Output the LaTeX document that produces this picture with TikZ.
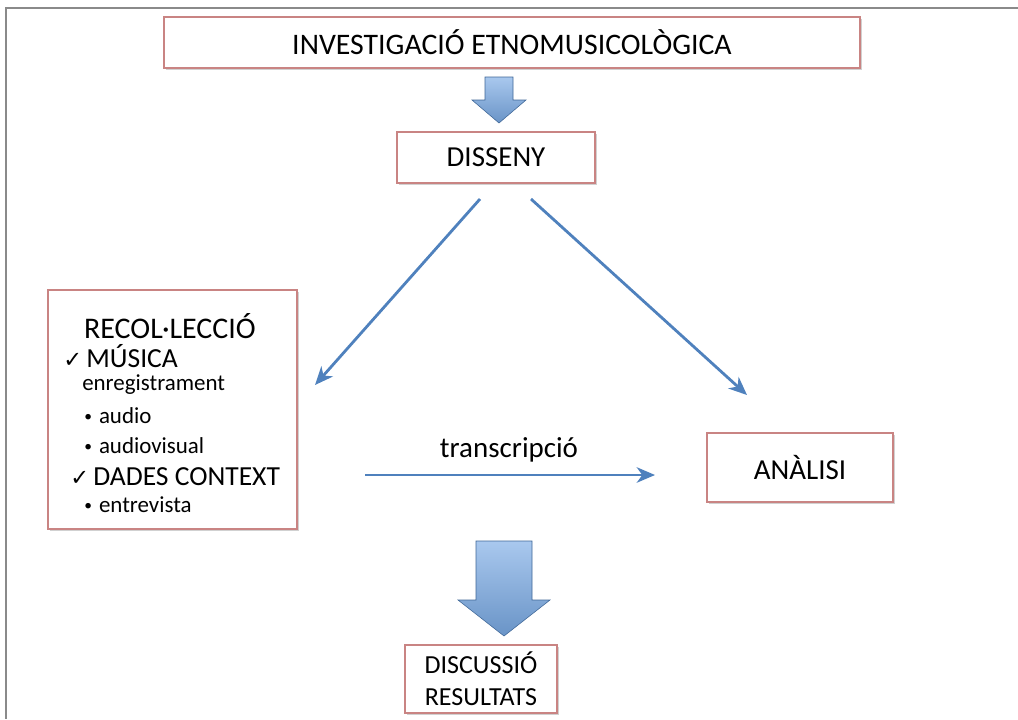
\documentclass[tikz,border=0pt]{standalone}
\usepackage{fontspec}
\setmainfont{Carlito}
\newfontfamily\symfont{DejaVu Sans}
\usetikzlibrary{arrows.meta,shadows}

\definecolor{boxred}{HTML}{C98483}
\definecolor{arrblue}{HTML}{4F81BD}
\definecolor{arrlight}{HTML}{A9C8EE}
\definecolor{framegray}{HTML}{8A8A8A}

\newcommand{\chk}{{\symfont\fontsize{16}{18}\selectfont ✓}}
\newcommand{\bul}{\raisebox{1pt}{\fontsize{11}{12}\selectfont •}\hspace{5pt}}

\begin{document}
\begin{tikzpicture}[
    x=0.025cm, y=-0.025cm,
    stagebox/.style={draw=boxred, line width=0.9pt, fill=white, inner sep=0pt,
        align=center, font=\fontsize{20.6}{22.8}\selectfont,
        drop shadow={shadow xshift=1.2pt, shadow yshift=-1.6pt, fill=black!30, opacity=0.6}},
    itemtxt/.style={anchor=base west, inner sep=0pt, font=\fontsize{16.3}{18}\selectfont},
    checktxt/.style={anchor=base west, inner sep=0pt, font=\fontsize{19.6}{22}\selectfont},
    linkarrow/.style={arrblue, line width=2pt, -{Stealth[length=13pt, width=11pt, inset=4pt]}},
    blockarrow/.style={draw=arrblue!80!black, line width=0.4pt, top color=arrlight, bottom color=arrblue!85},
]
\useasboundingbox (0,0) rectangle (1018,719);

% outer frame (only top and left edges are visible)
\draw[framegray, line width=1.6pt] (1018,8) -- (6,8) -- (6,719);

% main boxes
\node[stagebox, minimum width=17.4cm, minimum height=1.275cm,
    font=\fontsize{21.2}{23}\selectfont] (recerca) at (512,42.5)
    {INVESTIGACIÓ ETNOMUSICOLÒGICA};
\node[stagebox, minimum width=4.95cm, minimum height=1.275cm] (disseny) at (496,157.5)
    {DISSENY};
\node[stagebox, minimum width=6.225cm, minimum height=5.975cm] (recollida) at (172.5,409.5) {};
\node[stagebox, minimum width=4.65cm, minimum height=1.725cm] (analisi) at (800,467.5)
    {ANÀLISI};
\node[stagebox, minimum width=3.8cm, minimum height=1.7cm,
    font=\fontsize{18.5}{22.8}\selectfont] (discussio) at (481,679)
    {DISCUSSIÓ\\RESULTATS};

% contents of the collection box
\node[anchor=base, inner sep=0pt, font=\fontsize{21.3}{24}\selectfont] (rtitol) at (170,338)
    {RECOL·LECCIÓ};
\node[checktxt] (rmusica) at (63,367) {\chk\hspace{3pt}MÚSICA};
\node[itemtxt] (renreg) at (82,390) {enregistrament};
\node[itemtxt] (raudio) at (84,423) {\bul audio};
\node[itemtxt] (raudiov) at (84,453) {\bul audiovisual};
\node[checktxt] (rdades) at (70,485) {\chk\hspace{3pt}DADES CONTEXT};
\node[itemtxt] (rentrev) at (84,512) {\bul entrevista};

% block arrows
\shade[blockarrow] (485,77) -- (513,77) -- (513,100) -- (526,100) -- (499,123)
    -- (472,100) -- (485,100) -- cycle;
\shade[blockarrow] (476,541) -- (532,541) -- (532,600) -- (550,600) -- (504,636)
    -- (458,600) -- (476,600) -- cycle;

% diagonal and horizontal links
\coordinate (dissenyA) at (480,199);
\coordinate (dissenyB) at (531,199);
\coordinate (cap1) at (315,385);
\coordinate (cap2) at (747,395);
\coordinate (transA) at (365,475);
\coordinate (transB) at (655,475);
\draw[linkarrow] (dissenyA) -- (cap1);
\draw[linkarrow] (dissenyB) -- (cap2);
\draw[linkarrow] (transA) -- (transB);
\node[anchor=base, inner sep=0pt, font=\fontsize{20.6}{22.8}\selectfont] (transcr) at (509,457)
    {transcripció};

\end{tikzpicture}
\end{document}
